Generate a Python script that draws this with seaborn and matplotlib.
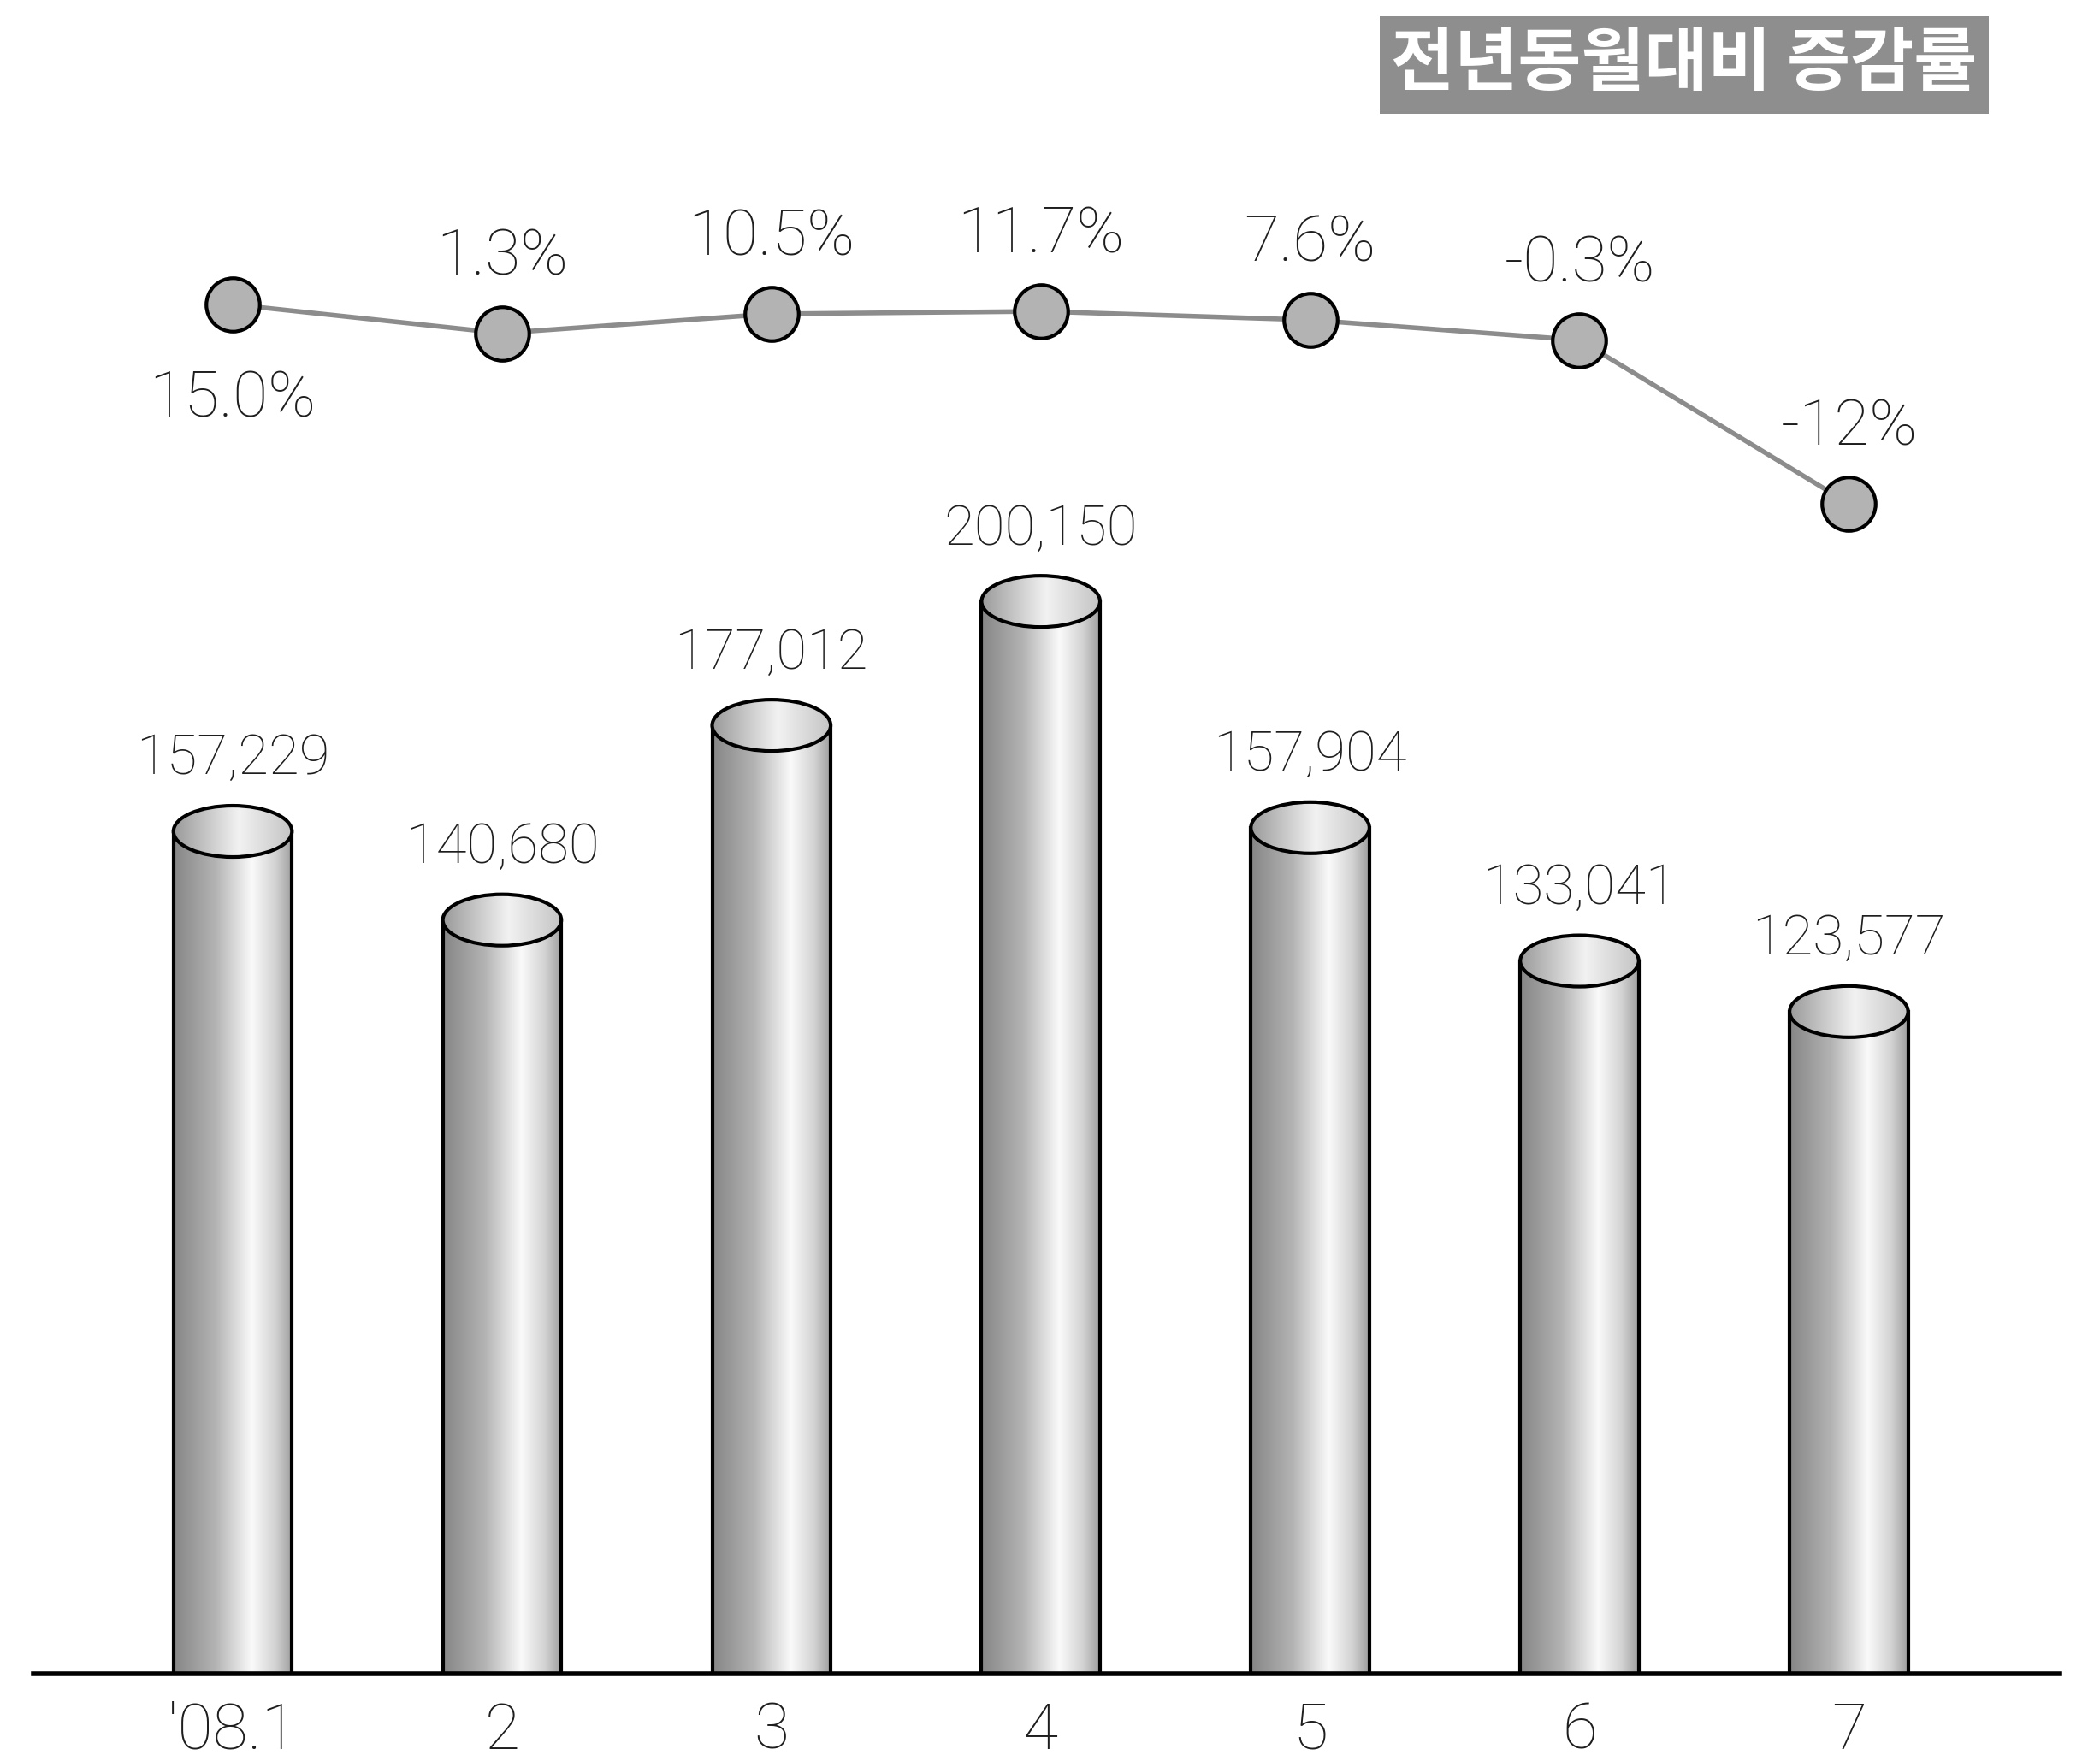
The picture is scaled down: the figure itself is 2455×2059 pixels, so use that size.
import numpy as np
import pandas as pd
import matplotlib
matplotlib.use('Agg')
import matplotlib.pyplot as plt
import seaborn as sns
from matplotlib.colors import LinearSegmentedColormap
from matplotlib.patches import Ellipse, Rectangle

# 데이터
months = ["'08.1", '2', '3', '4', '5', '6', '7']
sales = [157229, 140680, 177012, 200150, 157904, 133041, 123577]
growth = [15.0, 1.3, 10.5, 11.7, 7.6, -0.3, -12.0]
growth_labels = ['15.0%', '1.3%', '10.5%', '11.7%', '7.6%', '-0.3%', '-12%']
label_below = [True, False, False, False, False, False, False]
title = '전년동월대비 증감률'

sns.set_style('white')
plt.rcParams['font.family'] = ['Roboto', 'DejaVu Sans']
plt.rcParams['font.weight'] = 'light'

W, H = 2455, 2059
fig = plt.figure(figsize=(W / 100, H / 100), dpi=100)
fig.patch.set_facecolor('white')

body_cmap = LinearSegmentedColormap.from_list(
    'body', [(0, '#868686'), (0.35, '#b3b3b3'), (0.66, '#fafafa'), (0.86, '#d2d2d2'), (1, '#9e9e9e')])
top_cmap = LinearSegmentedColormap.from_list(
    'top', [(0, '#9a9a9a'), (0.55, '#f2f2f2'), (1, '#c4c4c4')])

# 막대 (원기둥)
left, right, base, top_px = 39, 2407, 1957, 560
ax = fig.add_axes([left / W, 1 - base / H, (right - left) / W, (base - top_px) / H])
df = pd.DataFrame({'month': months, 'sales': sales})
sns.barplot(data=df, x='month', y='sales', order=months, color='#aaaaaa',
            width=0.44, edgecolor='black', linewidth=3, ax=ax)

xlim = (-0.74, 6.78)
ylim = (0, 223000)
ell_h = 60 / ((base - top_px) / (ylim[1] - ylim[0]))
grad = np.linspace(0, 1, 256).reshape(1, -1)

for bar, v in zip(ax.patches, sales):
    x0, w, h = bar.get_x(), bar.get_width(), bar.get_height()
    bar.set_facecolor('none')
    bar.set_zorder(3)
    im = ax.imshow(grad, extent=(x0, x0 + w, 0, h), cmap=body_cmap,
                   aspect='auto', interpolation='bicubic', zorder=2)
    im.set_clip_path(bar)
    ell = Ellipse((x0 + w / 2, h), w, ell_h, facecolor='none',
                  edgecolor='black', linewidth=3, zorder=5)
    ax.add_patch(ell)
    im2 = ax.imshow(grad, extent=(x0, x0 + w, h - ell_h / 2, h + ell_h / 2),
                    cmap=top_cmap, aspect='auto', interpolation='bicubic', zorder=4)
    im2.set_clip_path(ell)
    ax.annotate(f'{v:,}', xy=(x0 + w / 2, h), xytext=(0, 61), textcoords='offset points',
                ha='center', va='center', fontsize=47, color='#1e1e1e')

ax.set_xlim(*xlim)
ax.set_ylim(*ylim)
sns.despine(ax=ax, left=True)
ax.spines['bottom'].set_linewidth(4)
ax.spines['bottom'].set_color('black')
ax.spines['bottom'].set_zorder(6)
ax.set_yticks([])
ax.set_xlabel('')
ax.set_ylabel('')
ax.tick_params(axis='x', length=0, pad=23, labelsize=54, labelcolor='#1e1e1e')
ax.patch.set_alpha(0)

# 증감률 꺾은선
def fwd(v):
    v = np.asarray(v, dtype=float)
    return np.where(v >= 0, v * 0.15, v)


def inv(y):
    y = np.asarray(y, dtype=float)
    return np.where(y >= 0, y / 0.15, y)


ax2 = fig.add_axes([left / W, 1 - 700 / H, (right - left) / W, 550 / H])
sns.pointplot(x=months, y=growth, order=months, color='#8c8c8c', linewidth=4,
              markers='o', markersize=45, markerfacecolor='#b3b3b3',
              markeredgecolor='black', markeredgewidth=3, errorbar=None, ax=ax2)
ax2.set_yscale('function', functions=(fwd, inv))
ax2.set_ylim(-18.82, 99.1)
ax2.set_xlim(*xlim)
ax2.axis('off')
ax2.patch.set_alpha(0)

for i, (g, lab, below) in enumerate(zip(growth, growth_labels, label_below)):
    ax2.annotate(lab, xy=(i, g), xytext=(0, -80 if below else 64),
                 textcoords='offset points', ha='center', va='center',
                 fontsize=54, color='#1e1e1e')

# 범례 상자
fig.patches.append(Rectangle((1613 / W, 1 - 133 / H), 712 / W, 114 / H,
                             transform=fig.transFigure, facecolor='#8e8e8e',
                             edgecolor='none'))
fig.text(1969 / W, 1 - 76 / H, title, ha='center', va='center', color='white',
         fontsize=58, fontweight='bold', family=['Noto Sans CJK KR', 'DejaVu Sans'])

fig.savefig('out.png', dpi=100)
